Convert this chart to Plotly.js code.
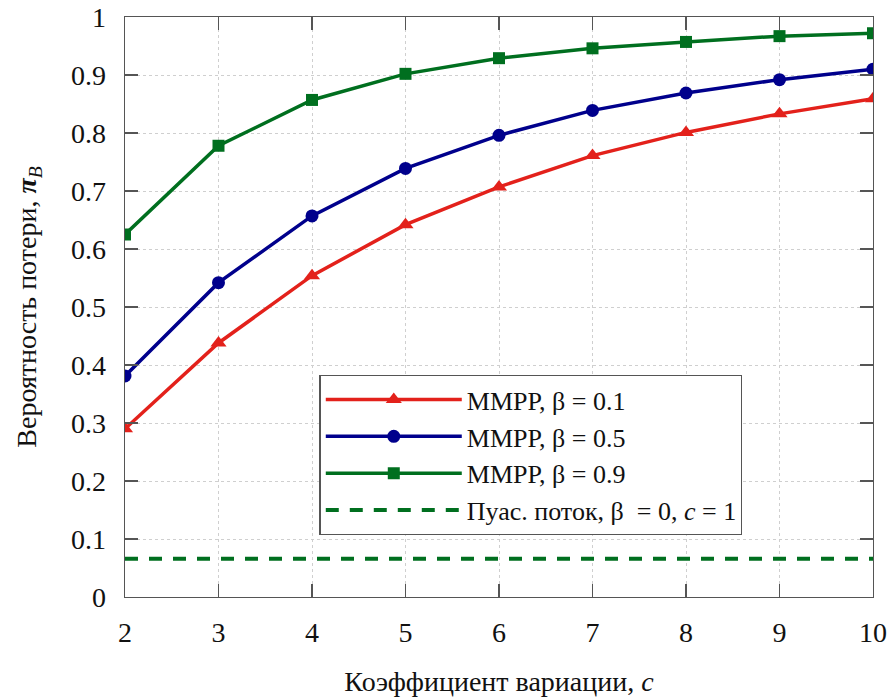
<!DOCTYPE html>
<html>
<head>
<meta charset="utf-8">
<script src="https://cdn.plot.ly/plotly-3.0.1.min.js"></script>
<style>html,body{margin:0;padding:0;background:#fff;}#chart{width:894px;height:697px;}</style>
</head>
<body>
<div id="chart"></div>
<script>
const cValues = [2, 3, 4, 5, 6, 7, 8, 9, 10];
const beta01 = [0.29, 0.438, 0.554, 0.642, 0.707, 0.761, 0.801, 0.833, 0.859];
const beta05 = [0.381, 0.542, 0.657, 0.739, 0.796, 0.839, 0.869, 0.892, 0.910];
const beta09 = [0.625, 0.778, 0.857, 0.902, 0.929, 0.946, 0.957, 0.967, 0.972];
const poissonX = [2, 10];
const poissonY = [0.066, 0.066];
const seriesNames = ['MMPP, β = 0.1', 'MMPP, β = 0.5', 'MMPP, β = 0.9', 'Пуас. поток, β  = 0, <i>c</i> = 1'];
const xTicks = [2, 3, 4, 5, 6, 7, 8, 9, 10];
const yTicks = [0, 0.1, 0.2, 0.3, 0.4, 0.5, 0.6, 0.7, 0.8, 0.9, 1];
const yTickText = ['0', '0.1', '0.2', '0.3', '0.4', '0.5', '0.6', '0.7', '0.8', '0.9', '1'];

const FONT = '"Liberation Serif", serif';
const RED = '#e3211b', BLUE = '#00008c', GREEN = '#006f1f';

const traces = [
  {x: cValues, y: beta01, name: seriesNames[0], mode: 'lines+markers',
   line: {color: RED, width: 3.5}, marker: {symbol: 'triangle-up', size: 14, color: RED}},
  {x: cValues, y: beta05, name: seriesNames[1], mode: 'lines+markers',
   line: {color: BLUE, width: 3.5}, marker: {symbol: 'circle', size: 13, color: BLUE}},
  {x: cValues, y: beta09, name: seriesNames[2], mode: 'lines+markers',
   line: {color: GREEN, width: 3.5}, marker: {symbol: 'square', size: 12, color: GREEN}},
  {x: poissonX, y: poissonY, name: seriesNames[3], mode: 'lines',
   line: {color: GREEN, width: 4, dash: '13px,11px'}}
];

const axisCommon = {
  showline: true, linecolor: '#555', linewidth: 1.3, mirror: 'ticks',
  ticks: 'inside', ticklen: 13, tickcolor: '#555', tickwidth: 1.3,
  showgrid: true, gridcolor: '#cfcfcf', griddash: 'dot', gridwidth: 1,
  zeroline: false, tickfont: {family: FONT, size: 28, color: '#111'}
};

const layout = {
  width: 894, height: 697,
  margin: {l: 125, r: 21, t: 17, b: 100},
  paper_bgcolor: '#fff', plot_bgcolor: '#fff',
  font: {family: FONT, color: '#111'},
  xaxis: Object.assign({}, axisCommon, {
    range: [2, 10], tickvals: xTicks, ticklabelstandoff: 10,
    title: {text: 'Коэффициент вариации, <i>c</i>', font: {family: FONT, size: 28, color: '#111'}, standoff: 26}
  }),
  yaxis: Object.assign({}, axisCommon, {
    range: [0, 1], tickvals: yTicks, ticktext: yTickText, ticklabelstandoff: 12,
    title: {text: 'Вероятность потери, <b><i>π</i></b><sub><i>B</i></sub>', font: {family: FONT, size: 28, color: '#111'}, standoff: 26}
  }),
  showlegend: true,
  legend: {
    x: 0.26, y: 0.383, xanchor: 'left', yanchor: 'top',
    bgcolor: '#fff', bordercolor: '#555', borderwidth: 1.3,
    font: {family: FONT, size: 26, color: '#111'},
    itemwidth: 136, tracegroupgap: 0
  }
};

Plotly.newPlot('chart', traces, layout, {displayModeBar: false, staticPlot: true});
</script>
</body>
</html>
